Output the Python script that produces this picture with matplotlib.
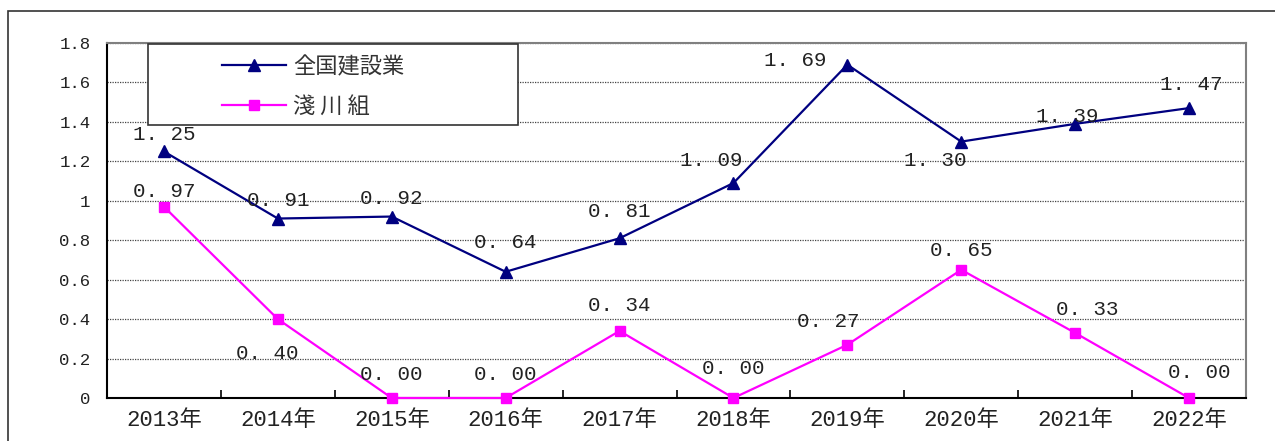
import matplotlib
matplotlib.use("Agg")
import matplotlib.pyplot as plt
from matplotlib.patches import Rectangle
from matplotlib.lines import Line2D

years = ["2013年", "2014年", "2015年", "2016年", "2017年",
         "2018年", "2019年", "2020年", "2021年", "2022年"]
national = [1.25, 0.91, 0.92, 0.64, 0.81, 1.09, 1.69, 1.30, 1.39, 1.47]
asakawa = [0.97, 0.40, 0.00, 0.00, 0.34, 0.00, 0.27, 0.65, 0.33, 0.00]
series_names = ["全国建設業", "淺 川 組"]
yticks = [0, 0.2, 0.4, 0.6, 0.8, 1, 1.2, 1.4, 1.6, 1.8]
ytick_labels = ["0", "0.2", "0.4", "0.6", "0.8", "1", "1.2", "1.4", "1.6", "1.8"]

# label offsets in pixels (dx, dy) relative to each point
off_nat = [(0, 17), (0, 18), (0, 18), (0, 29), (0, 27), (-22, 23), (-52, 4), (-26, -19), (-8, 7), (2, 24)]
off_asa = [(0, 15), (-11, -34), (0, 23), (0, 23), (0, 25), (0, 30), (-19, 23), (0, 19), (12, 23), (10, 26)]

W, H = 1275, 441
fig = plt.figure(figsize=(W / 100, H / 100), dpi=100)
fig.patch.set_facecolor("white")

# outer frame
fig.patches.append(Rectangle((8 / W, -0.1), 1.2, (H - 11) / H + 0.1, transform=fig.transFigure,
                             fill=False, edgecolor="#333333", linewidth=1.2))

AX_L, AX_R, AX_T, AX_B = 107, 1246, 43, 398
ax = fig.add_axes([AX_L / W, (H - AX_B) / H, (AX_R - AX_L) / W, (AX_B - AX_T) / H])
x = list(range(len(years)))

NAVY = "#000080"
MAG = "#FF00FF"
ax.plot(x, national, color=NAVY, lw=1.6, marker="^", ms=8, mec=NAVY, mfc=NAVY, zorder=4, clip_on=False)
ax.plot(x, asakawa, color=MAG, lw=1.6, marker="s", ms=7.5, mec=MAG, mfc=MAG, zorder=4, clip_on=False)

MONO = ["Liberation Mono", "Noto Sans CJK JP"]
num_font = dict(family=MONO, size=15, color="#222222")
for xi, v, (dx, dy) in zip(x, national, off_nat):
    s = f"{v:.2f}".replace(".", ". ")
    ax.annotate(s, (xi, v), xytext=(dx, dy), textcoords="offset pixels",
                ha="center", va="center", zorder=5, **num_font)
for xi, v, (dx, dy) in zip(x, asakawa, off_asa):
    s = f"{v:.2f}".replace(".", ". ")
    ax.annotate(s, (xi, v), xytext=(dx, dy), textcoords="offset pixels",
                ha="center", va="center", zorder=5, **num_font)

ax.set_xlim(-0.5, len(years) - 0.5)
ax.set_ylim(0, 1.8)
ax.set_yticks(yticks)
ax.set_yticklabels(ytick_labels)
ax.tick_params(axis="y", length=0, pad=12)
ax.set_xticks(x)
ax.set_xticklabels(years)
ax.tick_params(axis="x", which="major", length=0, pad=9)
ax.set_xticks([i + 0.5 for i in x[:-1]], minor=True)
ax.tick_params(axis="x", which="minor", direction="in", length=6, width=1.2, color="black")
for lbl in ax.get_yticklabels():
    lbl.set_fontfamily(MONO)
    lbl.set_fontsize(12.5)
    lbl.set_color("#222222")
for lbl in ax.get_xticklabels():
    lbl.set_fontfamily(MONO)
    lbl.set_fontsize(16)
    lbl.set_color("#222222")

ax.yaxis.grid(True, color="#444444", linestyle=(0, (1, 1)), linewidth=0.9)
ax.set_axisbelow(True)
for s in ["left", "bottom"]:
    ax.spines[s].set_color("black")
    ax.spines[s].set_linewidth(1.5)
for s in ["top", "right"]:
    ax.spines[s].set_color("#808080")
    ax.spines[s].set_linewidth(1.5)

# legend: box + frameless legend inside
pw, ph = AX_R - AX_L, AX_B - AX_T
box = Rectangle(((148 - AX_L) / pw, (AX_B - 125) / ph), (518 - 148) / pw, (125 - 44) / ph,
                transform=ax.transAxes, facecolor="white", edgecolor="#333333", lw=1.2, zorder=6)
ax.add_patch(box)
handles = [Line2D([], [], color=NAVY, lw=1.6, marker="^", ms=8),
           Line2D([], [], color=MAG, lw=1.6, marker="s", ms=7.5)]
leg = ax.legend(handles, series_names, loc="upper left",
                bbox_to_anchor=((222 - AX_L) / pw, (AX_B - 55) / ph),
                frameon=False, borderpad=0, labelspacing=0.75,
                handlelength=2.9, handletextpad=0.3, borderaxespad=0,
                prop=dict(family=["Noto Sans CJK JP"], size=16))
leg.set_zorder(7)
for t in leg.get_texts():
    t.set_color("#333333")

fig.savefig("out.png", dpi=100, facecolor="white")
